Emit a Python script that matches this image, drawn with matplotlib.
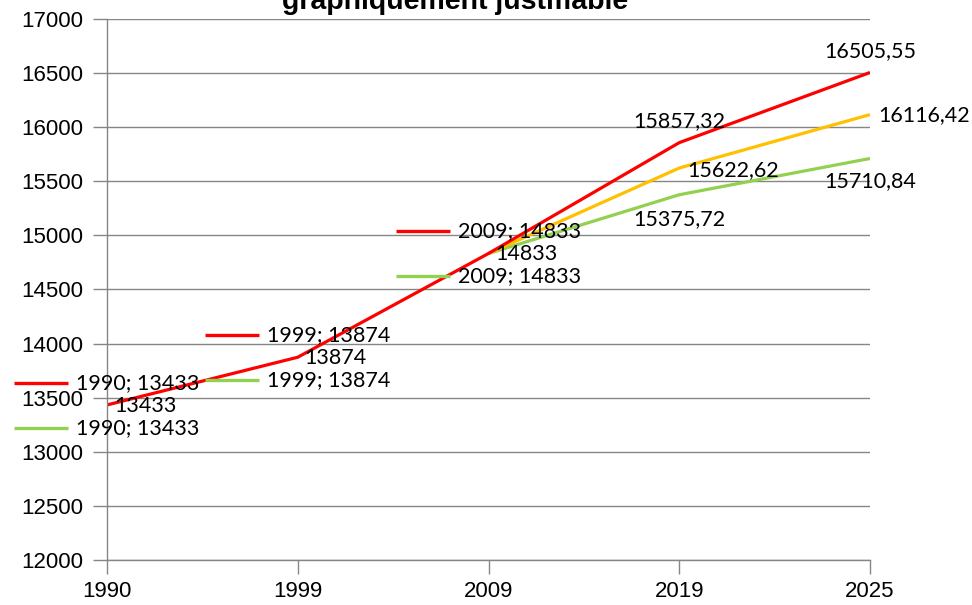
import matplotlib

matplotlib.use("Agg")
from matplotlib import pyplot as plt
from matplotlib.transforms import offset_copy

years = ["1990", "1999", "2009", "2019", "2025"]
red_values = [13433, 13874, 14833, 15857.32, 16505.55]
yellow_years = ["2009", "2019", "2025"]
yellow_values = [14833, 15622.62, 16116.42]
green_years = ["2009", "2019", "2025"]
green_values = [14833, 15375.72, 15710.84]

y_ticks = list(range(12000, 17001, 500))

RED = "#FF0000"
YELLOW = "#FFC000"
GREEN = "#92D050"
GRID = "#868686"
LABEL_FONT = ["Lato", "DejaVu Sans"]
TICK_FONT = ["Liberation Sans", "DejaVu Sans"]


def fmt(value: float) -> str:
    if float(value).is_integer():
        return f"{int(value)}"
    return f"{value:.2f}".replace(".", ",")


def value_label(axis, x, y, text, dx, dy):
    axis.annotate(
        text, (x, y), xytext=(dx, dy), textcoords="offset pixels",
        ha="center", va="center", fontsize=15.5, family=LABEL_FONT,
        color="black", annotation_clip=False,
    )


def keyed_label(figure, axis, x, y, text, color, dy):
    trans = offset_copy(axis.transData, fig=figure, x=-66, y=dy, units="dots")
    axis.plot(
        [x], [y], marker="_", markersize=39, markeredgewidth=2.4,
        color=color, transform=trans, clip_on=False,
    )
    axis.annotate(
        text, (x, y), xytext=(-31, dy), textcoords="offset pixels",
        ha="left", va="center", fontsize=15.5, family=LABEL_FONT,
        color="black", annotation_clip=False,
    )


figure = plt.figure(figsize=(9.72, 6.05), dpi=100)
axis = figure.add_axes([107 / 972, 1 - 560 / 605, (870 - 107) / 972, (560 - 19) / 605])

xs = list(range(len(years)))
x_of = {year: i for i, year in enumerate(years)}

axis.plot([x_of[y] for y in green_years], green_values, color=GREEN, linewidth=2.3, solid_capstyle="butt")
axis.plot([x_of[y] for y in yellow_years], yellow_values, color=YELLOW, linewidth=2.3, solid_capstyle="butt")
axis.plot(xs, red_values, color=RED, linewidth=2.3, solid_capstyle="butt")

axis.set_xlim(0, len(years) - 1)
axis.set_ylim(y_ticks[0], y_ticks[-1])
axis.set_xticks(xs)
axis.set_xticklabels(years)
axis.set_yticks(y_ticks)
axis.set_yticklabels([str(t) for t in y_ticks])
axis.yaxis.grid(True, color=GRID, linewidth=1)
axis.set_axisbelow(True)
for side in ("top", "right"):
    axis.spines[side].set_visible(False)
for side in ("left", "bottom"):
    axis.spines[side].set_color(GRID)
    axis.spines[side].set_linewidth(1)
axis.tick_params(axis="both", length=10, width=1, color=GRID, labelsize=16)
axis.tick_params(axis="y", pad=7)
axis.tick_params(axis="x", pad=5)
for label in axis.get_xticklabels() + axis.get_yticklabels():
    label.set_family(TICK_FONT)

# keyed labels "year; value" for the early points
for year, value in zip(years[:3], red_values[:3]):
    i = x_of[year]
    keyed_label(figure, axis, i, value, f"{year}; {fmt(value)}", RED, 22)
    keyed_label(figure, axis, i, value, f"{year}; {fmt(value)}", GREEN, -23)
    value_label(axis, i, value, fmt(value), 38, -1)

# values on the later points
value_label(axis, 3, red_values[3], fmt(red_values[3]), 0, 22)
value_label(axis, 4, red_values[4], fmt(red_values[4]), 0, 21)
value_label(axis, 3, yellow_values[1], fmt(yellow_values[1]), 54, -2)
value_label(axis, 4, yellow_values[2], fmt(yellow_values[2]), 54, 0)
value_label(axis, 3, green_values[1], fmt(green_values[1]), 0, -24)
value_label(axis, 4, green_values[2], fmt(green_values[2]), 0, -23)

figure.text(
    0.468, 1 - 9 / 605, "graphiquement justifiable", ha="center", va="baseline",
    fontsize=20.5, fontweight="bold", family=["Liberation Sans", "DejaVu Sans"],
)

figure.savefig("out.png", dpi=100)
plt.close(figure)
